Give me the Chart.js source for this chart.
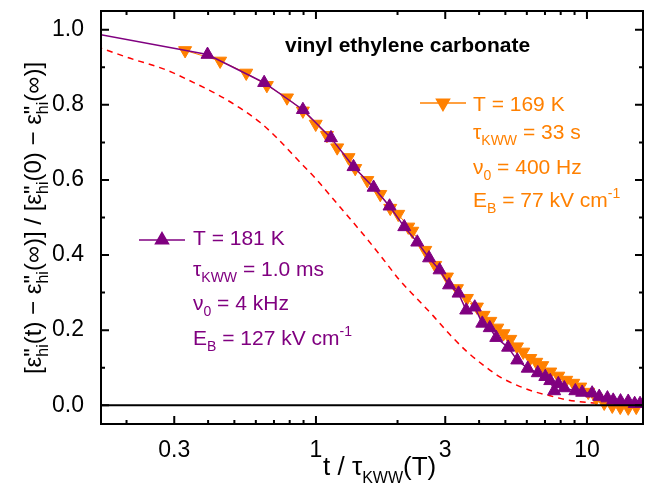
<!DOCTYPE html>
<html>
<head>
<meta charset="utf-8">
<script src="https://cdn.jsdelivr.net/npm/chart.js@4.4.0/dist/chart.umd.min.js"></script>
<style>
  body { margin: 0; background: #fff; }
  #wrap { width: 647px; height: 493px; }
</style>
</head>
<body>
<div id="wrap"><canvas id="chart" width="647" height="493"></canvas></div>
<script>
const FONT = '"Liberation Sans", Arial, Helvetica, sans-serif';
const PURPLE = '#800080';
const ORANGE = '#ff8000';

// T = 181 K
const x181 = [0.14, 0.398, 0.644, 0.895, 1.136, 1.376, 1.632, 1.869, 2.118, 2.365, 2.615, 2.858,
  3.099, 3.359, 3.585, 3.855, 4.109, 4.378, 4.627, 5.116, 5.531, 6.046, 6.585, 7.02, 7.32, 7.57,
  7.84, 8.25, 9.06, 9.6, 10.45, 11.1, 11.9, 12.5, 13.3, 14.2, 15.0, 15.7];
const y181 = [0.995, 0.934, 0.859, 0.787, 0.712, 0.635, 0.580, 0.530, 0.475, 0.434, 0.392, 0.360,
  0.320, 0.298, 0.253, 0.261, 0.218, 0.206, 0.180, 0.154, 0.120, 0.098, 0.086, 0.076, 0.065, 0.038,
  0.057, 0.046, 0.038, 0.034, 0.032, 0.023, 0.019, 0.013, 0.011, 0.010, 0.004, 0.004];

// T = 169 K
const x169 = [0.329, 0.443, 0.553, 0.659, 0.782, 0.895, 0.998, 1.098, 1.198, 1.319, 1.396, 1.547,
  1.727, 1.880, 2.012, 2.191, 2.267, 2.531, 2.755, 3.044, 3.314, 3.607, 3.927, 4.154, 4.398, 4.667,
  4.923, 5.212, 5.517, 5.821, 6.178, 6.500, 6.840, 7.321, 7.838, 8.385, 8.902, 9.447, 10.11, 10.82,
  11.58, 12.40, 13.27, 14.20, 15.20];
const y169 = [0.945, 0.917, 0.885, 0.852, 0.819, 0.784, 0.749, 0.719, 0.686, 0.660, 0.631, 0.599,
  0.562, 0.525, 0.509, 0.475, 0.464, 0.413, 0.373, 0.342, 0.311, 0.285, 0.262, 0.240, 0.224, 0.206,
  0.191, 0.176, 0.156, 0.142, 0.125, 0.115, 0.106, 0.089, 0.078, 0.067, 0.059, 0.049, 0.035, 0.019,
  0.006, -0.002, -0.005, -0.007, -0.005];

// dashed red reference curve
const xRef = [0.155, 0.2064, 0.2827, 0.3525, 0.4322, 0.5256, 0.6229, 0.7199, 0.8532, 1.011, 1.158,
  1.339, 1.547, 1.771, 2.047, 2.365, 2.709, 3.131, 3.616, 4.143, 4.787, 5.531, 6.337, 7.321, 8.459,
  10.28, 13.27, 16.5];
const yRef = [0.955, 0.924, 0.892, 0.860, 0.828, 0.791, 0.753, 0.711, 0.655, 0.599, 0.549,
  0.496, 0.442, 0.389, 0.331, 0.283, 0.238, 0.187, 0.142, 0.107, 0.075, 0.053, 0.037, 0.025, 0.014,
  0.007, 0.003, 0.001];

const xTicks = [0.3, 1, 3, 10];
const xMinor = [0.2, 0.4, 0.5, 0.6, 0.7, 0.8, 0.9, 2, 4, 5, 6, 7, 8, 9];
const yTicks = [0, 0.2, 0.4, 0.6, 0.8, 1.0];
const yMinor = [0.1, 0.3, 0.5, 0.7, 0.9];

const toPoints = (xs, ys) => xs.map((x, i) => ({ x: x, y: ys[i] }));

// draws a run of text pieces, with subscripts / superscripts / stacked pieces
function drawRich(ctx, x, y, parts, size, subSize) {
  subSize = subSize || Math.round(size * 0.66);
  let cx = x;
  for (const p of parts) {
    if (p.sub || p.sup) {
      ctx.font = subSize + 'px ' + FONT;
      ctx.fillText(p.t, cx, y + (p.sub ? size * 0.3 : -size * 0.42));
      cx += ctx.measureText(p.t).width;
    } else if (p.stack) {
      ctx.font = size + 'px ' + FONT;
      ctx.fillText(p.t, cx, y);
      const w1 = ctx.measureText(p.t).width;
      ctx.font = subSize + 'px ' + FONT;
      ctx.fillText(p.stack, cx, y + size * 0.3);
      cx += Math.max(w1, ctx.measureText(p.stack).width);
    } else {
      ctx.font = size + 'px ' + FONT;
      ctx.fillText(p.t, cx, y);
      cx += ctx.measureText(p.t).width;
    }
  }
  return cx - x;
}

function richWidth(ctx, parts, size, subSize) {
  ctx.save();
  ctx.globalAlpha = 0;
  const w = drawRich(ctx, 0, 0, parts, size, subSize);
  ctx.restore();
  return w;
}

const decor = {
  id: 'decor',
  afterDatasetsDraw(chart) {
    const { ctx, chartArea: a, scales: { x, y } } = chart;
    ctx.save();
    ctx.strokeStyle = '#000';
    ctx.lineWidth = 2;
    const y0 = y.getPixelForValue(0);
    ctx.beginPath();
    ctx.moveTo(a.left, y0);
    ctx.lineTo(a.right, y0);
    ctx.stroke();
    ctx.strokeRect(a.left, a.top, a.right - a.left, a.bottom - a.top);

    // inward ticks on all four sides
    ctx.beginPath();
    const xt = (v, len) => {
      const px = x.getPixelForValue(v);
      ctx.moveTo(px, a.bottom); ctx.lineTo(px, a.bottom - len);
      ctx.moveTo(px, a.top); ctx.lineTo(px, a.top + len);
    };
    const yt = (v, len) => {
      const py = y.getPixelForValue(v);
      ctx.moveTo(a.left, py); ctx.lineTo(a.left + len, py);
      ctx.moveTo(a.right, py); ctx.lineTo(a.right - len, py);
    };
    xTicks.forEach(v => xt(v, 8));
    xMinor.forEach(v => xt(v, 4));
    yTicks.forEach(v => yt(v, 8));
    yMinor.forEach(v => yt(v, 4));
    ctx.stroke();
    ctx.restore();
  },
  afterDraw(chart) {
    const ctx = chart.ctx;
    ctx.save();
    ctx.textBaseline = 'alphabetic';
    ctx.textAlign = 'left';

    // title
    ctx.fillStyle = '#000';
    ctx.font = 'bold 21px ' + FONT;
    ctx.fillText('vinyl ethylene carbonate', 285, 52);

    // x axis title
    const xt = [{ t: 't / \u03c4' }, { t: 'KWW', sub: true }, { t: '(T)' }];
    drawRich(ctx, 323, 475, xt, 26, 16);

    // y axis title, rotated
    const yt = [
      { t: '[\u03b5' }, { t: '"', stack: 'hi' }, { t: '(t) \u2212 \u03b5' }, { t: '"', stack: 'hi' },
      { t: '(\u221e)] / [\u03b5' }, { t: '"', stack: 'hi' }, { t: '(0) \u2212 \u03b5' }, { t: '"', stack: 'hi' },
      { t: '(\u221e)]' }
    ];
    const yw = richWidth(ctx, yt, 24);
    ctx.save();
    ctx.translate(41, 218);
    ctx.rotate(-Math.PI / 2);
    drawRich(ctx, -yw / 2, 0, yt, 24);
    ctx.restore();

    // legend blocks
    const block = (color, lx, ly, tx, lines, rot) => {
      ctx.strokeStyle = color;
      ctx.fillStyle = color;
      ctx.lineWidth = 1.5;
      ctx.beginPath();
      ctx.moveTo(lx, ly);
      ctx.lineTo(lx + 46, ly);
      ctx.stroke();
      Chart.helpers.drawPoint(ctx, { pointStyle: 'triangle', radius: 7.5, rotation: rot, borderWidth: 1 }, lx + 23, ly);
      lines.forEach(([base, parts]) => drawRich(ctx, tx, base, parts, 21));
    };
    block(ORANGE, 420, 103, 473, [
      [111, [{ t: 'T = 169 K' }]],
      [139, [{ t: '\u03c4' }, { t: 'KWW', sub: true }, { t: ' = 33 s' }]],
      [174, [{ t: '\u03bd' }, { t: '0', sub: true }, { t: ' = 400 Hz' }]],
      [207, [{ t: 'E' }, { t: 'B', sub: true }, { t: ' = 77 kV cm' }, { t: '-1', sup: true }]]
    ], 180);
    block(PURPLE, 139, 240, 193, [
      [245, [{ t: 'T = 181 K' }]],
      [276, [{ t: '\u03c4' }, { t: 'KWW', sub: true }, { t: ' = 1.0 ms' }]],
      [310, [{ t: '\u03bd' }, { t: '0', sub: true }, { t: ' = 4 kHz' }]],
      [345, [{ t: 'E' }, { t: 'B', sub: true }, { t: ' = 127 kV cm' }, { t: '-1', sup: true }]]
    ], 0);
    ctx.restore();
  }
};

new Chart(document.getElementById('chart'), {
  type: 'line',
  data: {
    datasets: [
      {
        label: 'T = 181 K',
        data: toPoints(x181, y181),
        borderColor: PURPLE,
        backgroundColor: PURPLE,
        borderWidth: 1.5,
        pointStyle: 'triangle',
        pointRadius: 7.5,
        pointBorderWidth: 1,
        tension: 0
      },
      {
        label: 'T = 169 K',
        data: toPoints(x169, y169),
        borderColor: ORANGE,
        backgroundColor: ORANGE,
        borderWidth: 1,
        pointStyle: 'triangle',
        pointRotation: 180,
        pointRadius: 7.5,
        pointBorderWidth: 1,
        tension: 0
      },
      {
        label: 'reference',
        data: toPoints(xRef, yRef),
        borderColor: '#ff0000',
        borderWidth: 1.5,
        borderDash: [6, 5],
        pointRadius: 0,
        cubicInterpolationMode: 'monotone'
      }
    ]
  },
  options: {
    responsive: false,
    devicePixelRatio: 1,
    animation: false,
    events: [],
    layout: { autoPadding: false, padding: { left: 0, top: 11, right: 4, bottom: 0 } },
    plugins: { legend: { display: false }, tooltip: { enabled: false } },
    scales: {
      x: {
        type: 'logarithmic',
        min: 0.161,
        max: 16.1,
        grid: { display: false },
        border: { display: false },
        afterBuildTicks: s => { s.ticks = xTicks.map(v => ({ value: v })); },
        afterFit: s => { s.height = 69; s.paddingLeft = 0; s.paddingRight = 0; },
        ticks: {
          color: '#000',
          font: { family: FONT, size: 23 },
          padding: 5,
          maxRotation: 0,
          autoSkip: false,
          callback: v => String(v)
        }
      },
      y: {
        min: -0.05,
        max: 1.05,
        grid: { display: false },
        border: { display: false },
        afterBuildTicks: s => { s.ticks = yTicks.map(v => ({ value: v })); },
        afterFit: s => { s.width = 101; s.paddingTop = 0; s.paddingBottom = 0; },
        ticks: {
          color: '#000',
          font: { family: FONT, size: 23 },
          padding: 9,
          callback: v => v.toFixed(1)
        }
      }
    }
  },
  plugins: [decor]
});
</script>
</body>
</html>
